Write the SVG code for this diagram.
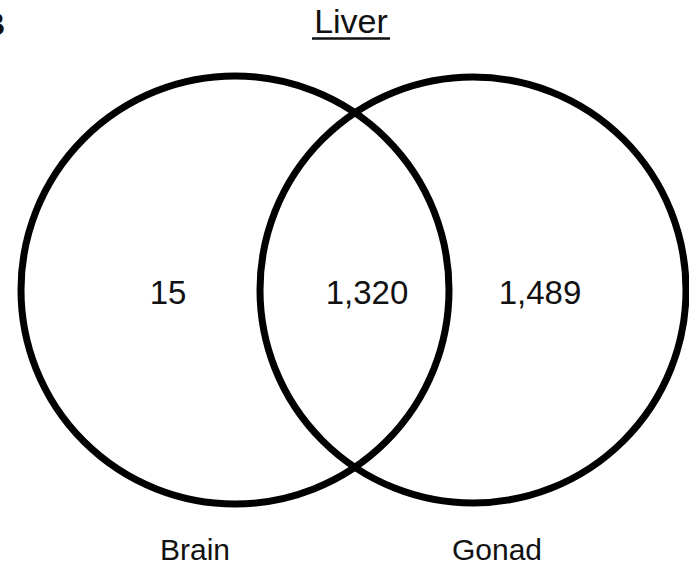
<svg xmlns="http://www.w3.org/2000/svg" width="689" height="571" viewBox="0 0 689 571">
<style>
.c{fill:none;stroke:#000;stroke-width:7}
.t{font-family:"Liberation Sans",Arial,sans-serif;fill:#111;text-anchor:middle}
.n{font-size:33px}
.l{font-size:30px}
</style>
<rect width="689" height="571" fill="#fff"/>
<text x="-18" y="35" font-family="Liberation Sans,Arial,sans-serif" font-size="32" font-weight="bold" fill="#111">B</text>
<g id="brain"><circle class="c" cx="235" cy="290" r="214"/><text class="t l" x="195" y="560">Brain</text></g>
<g id="gonad"><circle class="c" cx="473" cy="290" r="213"/><text class="t l" x="497" y="560">Gonad</text></g>
<g id="liver"><text class="t" x="351" y="33" font-size="34">Liver</text><line x1="312" y1="38.5" x2="390" y2="38.5" stroke="#111" stroke-width="2.5"/></g>
<g id="counts">
<text class="t n" x="168" y="304">15</text>
<text class="t n" x="367" y="304">1,320</text>
<text class="t n" x="540" y="304">1,489</text>
</g>
<g id="connectors"/>
</svg>
